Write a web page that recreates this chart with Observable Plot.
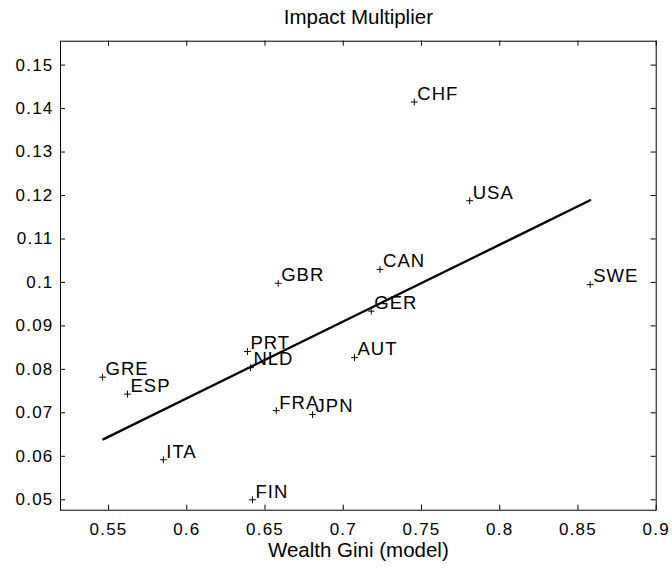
<!DOCTYPE html>
<html><head><meta charset="utf-8">
<script src="https://cdn.jsdelivr.net/npm/d3@7"></script>
<script src="https://cdn.jsdelivr.net/npm/@observablehq/plot@0.6"></script>
<style>
body{margin:0;background:#fff}
svg{display:block}
g[aria-label="x-axis tick label"] text, g[aria-label="y-axis tick label"] text{letter-spacing:1.2px}
g.country text{letter-spacing:1px}
</style>
</head><body><div id="chart"></div>
<script>
const countries = ["CHF","USA","CAN","GER","SWE","GBR","PRT","NLD","GRE","ESP","FRA","JPN","ITA","FIN","AUT"];
const gini = [0.7454,0.7808,0.7235,0.7179,0.8578,0.6584,0.6388,0.6407,0.5462,0.5621,0.6572,0.6804,0.5850,0.6420,0.7072];
const multiplier = [0.1415,0.1188,0.1030,0.0934,0.0995,0.0998,0.0841,0.0804,0.0782,0.0743,0.0705,0.0696,0.0592,0.0500,0.0827];
const fitGini = [0.5466, 0.8578];
const fitMultiplier = [0.0639, 0.1189];
const xTicks = [0.55,0.6,0.65,0.7,0.75,0.8,0.85,0.9];
const yTicks = [0.05,0.06,0.07,0.08,0.09,0.1,0.11,0.12,0.13,0.14,0.15];
const title = "Impact Multiplier";
const xLabel = "Wealth Gini (model)";

const points = countries.map((c,i)=>({country:c, gini:gini[i], mult:multiplier[i]}));
const fit = fitGini.map((g,i)=>({gini:g, mult:fitMultiplier[i]}));

const W = 672, H = 569;
const mL = 60, mR = 16.3, mT = 40.7, mB = 59.3;
const fw = W - mL - mR, fh = H - mT - mB;
const tk = 5;

const plusSymbol = {
  draw(ctx, size) {
    const r = Math.sqrt(size / Math.PI);
    ctx.moveTo(-r, 0); ctx.lineTo(r, 0);
    ctx.moveTo(0, -r); ctx.lineTo(0, r);
  }
};

const chart = Plot.plot({
  width: W, height: H,
  marginLeft: mL, marginRight: mR, marginTop: mT, marginBottom: mB,
  style: {fontFamily: "'Liberation Sans', Arial, Helvetica, sans-serif", fontSize: "17px", color: "#000", background: "#fff"},
  x: {domain: [0.5193, 0.9]},
  y: {domain: [0.0476, 0.1555]},
  marks: [
    Plot.frame({stroke: "#000", strokeWidth: 1}),
    Plot.tickX(xTicks, {x: d => d, insetTop: fh - tk, stroke: "#000", strokeWidth: 1}),
    Plot.tickX(xTicks, {x: d => d, insetBottom: fh - tk, stroke: "#000", strokeWidth: 1}),
    Plot.tickY(yTicks, {y: d => d, insetRight: fw - tk, stroke: "#000", strokeWidth: 1}),
    Plot.tickY(yTicks, {y: d => d, insetLeft: fw - tk, stroke: "#000", strokeWidth: 1}),
    Plot.axisX(xTicks, {tickSize: 0, tickPadding: 13, fontSize: 17, tickFormat: d => String(d), label: null}),
    Plot.axisY(yTicks, {tickSize: 0, tickPadding: 7, fontSize: 17, tickFormat: d => String(d), label: null}),
    Plot.line(fit, {x: "gini", y: "mult", stroke: "#000", strokeWidth: 2.3}),
    Plot.dot(points, {x: "gini", y: "mult", symbol: plusSymbol, r: 3.4, fill: "none", stroke: "#000", strokeWidth: 1}),
    Plot.text(points, {x: "gini", y: "mult", text: "country", textAnchor: "start", lineAnchor: "top", dx: 3, dy: -15.3, fontSize: 18.5, fill: "#000", className: "country"}),
    Plot.text([title], {text: d => d, frameAnchor: "top", lineAnchor: "top", dy: -31.7, fontSize: 20.5, fill: "#000"}),
    Plot.text([xLabel], {text: d => d, frameAnchor: "bottom", lineAnchor: "top", dy: 32.3, fontSize: 20.5, fill: "#000"})
  ]
});
document.getElementById("chart").appendChild(chart);
</script>
</body></html>
